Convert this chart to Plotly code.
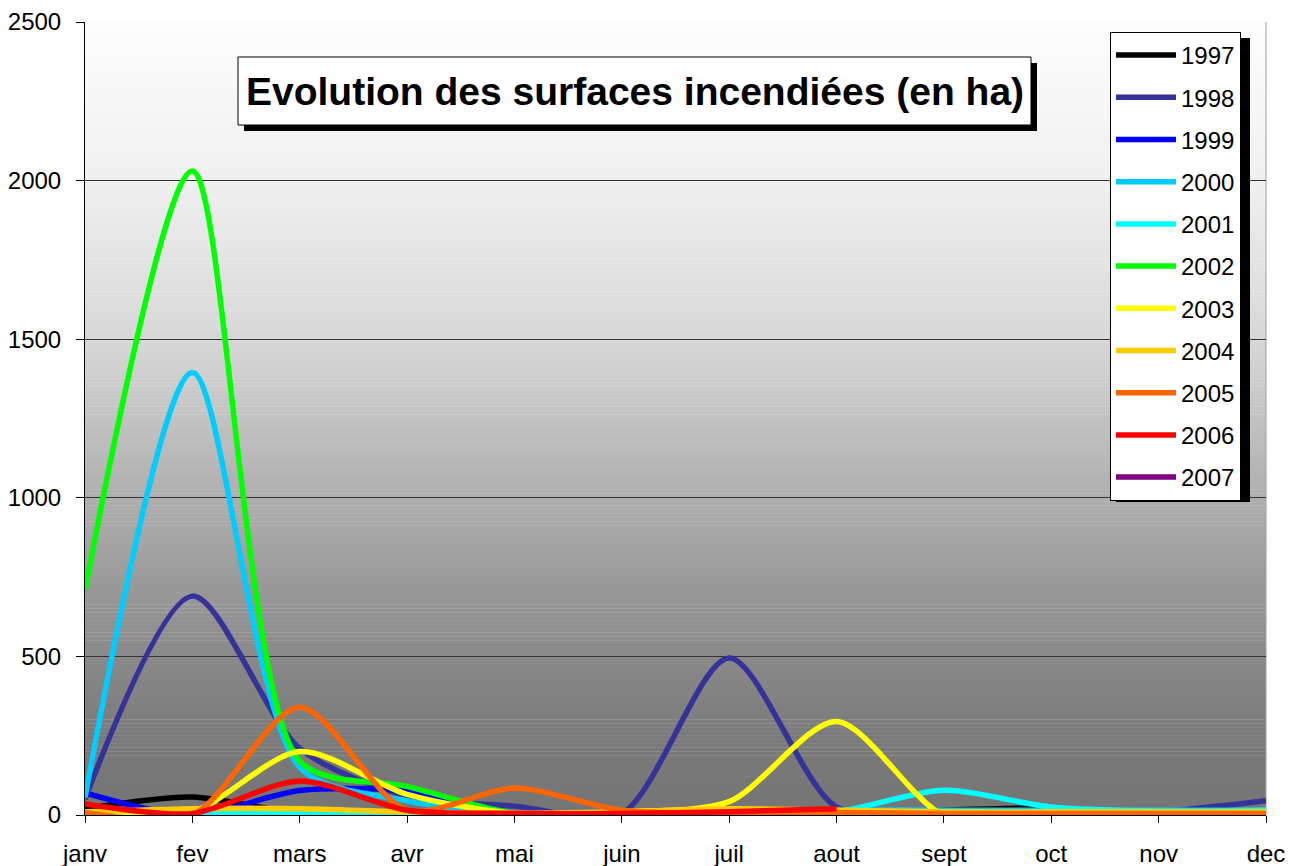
import plotly.graph_objects as go

months = ["janv", "fev", "mars", "avr", "mai", "juin", "juil", "aout", "sept", "oct", "nov", "dec"]
years = ["1997", "1998", "1999", "2000", "2001", "2002", "2003", "2004", "2005", "2006", "2007"]

v1997 = [20, 57, 5, 0, 0, 0, 0, 0, 15, 22, 0, 0]
v1998 = [50, 690, 210, 60, 28, 5, 495, 25, 0, 0, 10, 45]
v1999 = [70, 0, 77, 75, 5, 0, 0, 0, 0, 0, 0, 0]
v2000 = [55, 1395, 150, 45, 5, 0, 0, 15, 15, 15, 15, 15]
v2001 = [10, 5, 5, 5, 0, 0, 0, 10, 78, 25, 12, 15]
v2002 = [710, 2030, 170, 90, 5, 0, 0, 0, 0, 0, 0, 0]
v2003 = [5, 10, 200, 65, 5, 10, 42, 295, 0, 0, 0, 0]
v2004 = [10, 20, 20, 10, 5, 10, 20, 15, 10, 10, 10, 10]
v2005 = [8, 0, 340, 15, 85, 15, 5, 8, 5, 5, 5, 5]
v2006 = [35, 5, 107, 15, 5, 5, 10, 20, None, None, None, None]
v2007 = [None] * 12

series = [v1997, v1998, v1999, v2000, v2001, v2002, v2003, v2004, v2005, v2006, v2007]
colors = ["#000000", "#333399", "#0000FF", "#00CCFF", "#00FFFF", "#00FF00",
          "#FFFF00", "#FFCC00", "#FF6600", "#FF0000", "#800080"]

FONT = "Arial, Liberation Sans, sans-serif"

fig = go.Figure()
for name, vals, col in zip(years, series, colors):
    fig.add_trace(go.Scatter(
        x=months, y=vals, name=name, mode="lines", legendgroup=name,
        line=dict(color=col, width=5.5, shape="spline", smoothing=0.8),
        connectgaps=False,
    ))

# plot area gradient (white top -> grey bottom)
W, H = 1289, 866
ml, mr, mt, mb = 85, 23, 22, 51
pw, ph = W - ml - mr, H - mt - mb
stops = [(22, 253), (180, 240), (340, 215), (500, 174), (657, 137), (740, 122), (815, 117)]

def gray_at(py):
    for (y0, g0), (y1, g1) in zip(stops[:-1], stops[1:]):
        if y0 <= py <= y1:
            t = (py - y0) / (y1 - y0)
            return g0 + t * (g1 - g0)
    return stops[-1][1]

shapes = []
N = 200
for i in range(N):
    f0 = i / N
    f1 = (i + 1) / N
    py = mt + ph * (1 - (f0 + f1) / 2)
    g = int(round(gray_at(py)))
    shapes.append(dict(type="rect", xref="paper", yref="paper", x0=0, x1=1,
                       y0=f0, y1=f1 + 0.0005, fillcolor=f"rgb({g},{g},{g})",
                       line=dict(width=0), layer="below"))

def px_x(p):
    return (p - ml) / pw

def px_y(p):
    return (H - mb - p) / ph

# right border of plot area
shapes.append(dict(type="line", xref="paper", yref="paper", x0=1, x1=1, y0=0, y1=1,
                   line=dict(color="#A0A0A0", width=1), layer="below"))

# title box shadow + box
tb = (238, 57, 1031, 125)
sh = 6
shapes.append(dict(type="rect", xref="paper", yref="paper",
                   x0=px_x(tb[0] + sh), x1=px_x(tb[2] + sh), y0=px_y(tb[3] + sh), y1=px_y(tb[1] + sh),
                   fillcolor="black", line=dict(width=0), layer="above"))
shapes.append(dict(type="rect", xref="paper", yref="paper",
                   x0=px_x(tb[0]), x1=px_x(tb[2]), y0=px_y(tb[3]), y1=px_y(tb[1]),
                   fillcolor="white", line=dict(color="black", width=1), layer="above"))

# legend shadow
lb = (1110, 32, 1244, 496)
shapes.append(dict(type="rect", xref="paper", yref="paper",
                   x0=px_x(lb[0] + sh), x1=px_x(lb[2] + sh), y0=px_y(lb[3] + sh), y1=px_y(lb[1] + sh),
                   fillcolor="black", line=dict(width=0), layer="above"))

fig.update_layout(
    width=W, height=H,
    margin=dict(l=ml, r=mr, t=mt, b=mb, pad=0, autoexpand=False),
    paper_bgcolor="white", plot_bgcolor="white",
    font=dict(family=FONT, size=24, color="black"),
    showlegend=True,
    legend=dict(x=px_x(lb[0]), y=px_y(lb[1]), xanchor="left", yanchor="top",
                bgcolor="white", bordercolor="black", borderwidth=1,
                font=dict(family=FONT, size=24, color="black"),
                tracegroupgap=8, itemwidth=60),
    shapes=shapes,
    annotations=[dict(text="<b>Evolution des surfaces incendiées (en ha)</b>",
                      xref="paper", yref="paper",
                      x=px_x((tb[0] + tb[2]) / 2), y=px_y((tb[1] + tb[3]) / 2),
                      xanchor="center", yanchor="middle", showarrow=False,
                      font=dict(family=FONT, size=39, color="black"))],
    xaxis=dict(type="category", range=[0, 11], showgrid=False, zeroline=False,
               showline=True, linecolor="black", linewidth=1, automargin=False,
               ticks="outside", ticklen=7, tickcolor="black",
               ticklabelstandoff=10, tickfont=dict(size=24)),
    yaxis=dict(range=[0, 2500], dtick=500, showgrid=True, gridcolor="#333333", gridwidth=1,
               zeroline=False, showline=True, linecolor="black", linewidth=1, automargin=False,
               ticks="outside", ticklen=8, tickcolor="black",
               ticklabelstandoff=10, tickfont=dict(size=24)),
)

fig.write_html("out.html",
               config={"displayModeBar": False},
               post_script="document.body.style.margin='0px';document.body.style.overflow='hidden';")
